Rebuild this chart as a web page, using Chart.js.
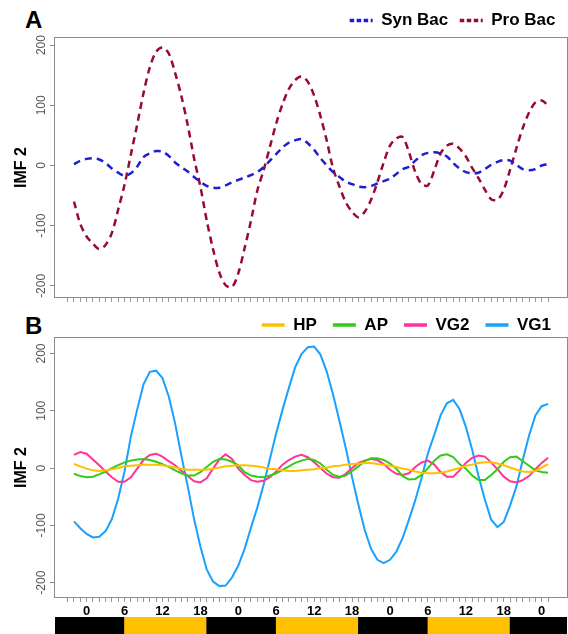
<!DOCTYPE html>
<html><head><meta charset="utf-8">
<script src="https://cdn.jsdelivr.net/npm/chart.js@4.4.1/dist/chart.umd.min.js"></script>
<style>
html,body{margin:0;padding:0;background:#fff;}
body{width:568px;height:634px;overflow:hidden;position:relative;font-family:'Liberation Sans',Arial,sans-serif;}
canvas{position:absolute;left:0;}
.lbl{position:absolute;font-weight:bold;font-size:24px;line-height:24px;color:#000;}
</style></head><body>
<div class="lbl" style="left:25px;top:8px">A</div>
<canvas id="cA" width="568" height="310" style="top:0"></canvas>
<div class="lbl" style="left:25px;top:314px">B</div>
<canvas id="cB" width="568" height="330" style="top:290px"></canvas>
<canvas id="cD" width="568" height="17" style="top:617px"></canvas>
<script>
// ---- data ----
const hours = [-2,-1,0,1,2,3,4,5,6,7,8,9,10,11,12,13,14,15,16,17,18,19,20,21,22,23,24,25,26,27,28,29,30,31,32,33,34,35,36,37,38,39,40,41,42,43,44,45,46,47,48,49,50,51,52,53,54,55,56,57,58,59,60,61,62,63,64,65,66,67,68,69,70,71,72,73];
const synBac = [2,8,11,12,10,4,-5,-12,-17,-13,-2,14,
  20,24,23,16,5,-3,-10,-19,-27,-34,-37,-37,
  -33,-28,-24,-20,-16,-11,-3,8,19,30,38,42,
  44,37,26,12,0,-11,-19,-27,-31,-35,-36,-34,
  -30,-26,-22,-14,-6,-2,8,17,21,22,20,15,
  4,-5,-11,-13,-12,-6,1,6,9,8,1,-6,
  -8,-6,0,2];
const proBac = [-60,-97,-118,-130,-139,-132,-112,-73,-32,18,68,120,
  163,189,196,186,154,115,67,12,-35,-91,-139,-178,
  -199,-202,-179,-137,-92,-42,-8,31,70,102,127,142,
  148,139,116,82,41,-5,-35,-61,-77,-86,-77,-57,
  -28,5,33,45,47,22,-11,-31,-33,-8,20,33,
  36,28,15,-4,-21,-40,-56,-57,-40,-7,29,62,
  88,105,108,100];
const hp = [7,3,-1,-4,-5,-4,-2,0,3,4,5,6,
  6,6,5,3,1,-1,-3,-3,-3,-3,-1,1,
  3,4,5,5,4,3,1,-1,-2,-4,-5,-5,
  -4,-3,-2,0,1,3,4,6,7,8,9,9,
  7,6,4,2,-1,-3,-6,-8,-9,-9,-8,-6,
  -3,0,4,6,9,10,10,8,5,1,-3,-6,
  -7,-5,1,7];
const ap = [-10,-14,-16,-15,-11,-6,0,5,10,13,15,16,
  14,11,7,2,-4,-9,-13,-13,-7,2,11,16,
  15,11,5,-7,-13,-15,-16,-13,-9,-3,3,9,
  13,16,14,8,-3,-12,-15,-13,-5,3,12,17,
  17,14,8,-1,-14,-20,-19,-12,0,13,22,24,
  19,7,-1,-13,-21,-21,-12,-2,11,19,20,12,
  4,-4,-7,-8];
const vg2 = [23,28,25,15,5,-6,-16,-24,-24,-16,-1,14,
  23,25,20,12,5,-5,-14,-23,-25,-18,-1,15,
  24,16,-1,-12,-21,-24,-22,-16,-6,6,14,20,
  23,19,10,0,-10,-16,-17,-10,0,9,13,16,
  14,7,-3,-10,-12,-9,2,10,13,6,-7,-15,
  -15,-4,9,18,22,20,10,-2,-15,-23,-25,-21,
  -14,-2,9,18];
const vg1 = [-93,-105,-115,-121,-120,-110,-89,-53,-6,55,102,146,
  168,170,157,125,78,21,-32,-89,-137,-177,-198,-206,
  -205,-191,-170,-141,-104,-69,-29,16,61,102,140,176,
  199,211,212,198,168,128,82,35,-16,-64,-108,-141,
  -160,-166,-160,-146,-122,-90,-56,-17,26,58,92,113,
  119,103,72,32,-14,-55,-90,-103,-94,-65,-32,14,
  57,92,108,112];
const hourTicks = [-3,-2,-1,0,1,2,3,4,5,6,7,8,9,10,11,12,13,14,15,16,17,18,19,20,21,22,23,24,25,26,27,28,29,30,31,32,33,34,35,36,37,38,39,40,41,42,43,44,45,46,47,48,49,50,51,52,53,54,55,56,57,58,59,60,61,62,63,64,65,66,67,68,69,70,71,72,73];
const labelHours = [0,6,12,18,24,30,36,42,48,54,60,66,72];
const labelTexts = ['0','6','12','18','0','6','12','18','0','6','12','18','0'];
const yTicks = [-200,-100,0,100,200];
const periodStart = [-5,6,19,30,43,54,67];
const periodEnd = [6,19,30,43,54,67,76];
const periodType = ['dark','light','dark','light','dark','light','dark'];

// ---- helpers ----
const FONT = "'Liberation Sans', Arial, sans-serif";
function pts(vals){ return hours.map((h,i)=>({x:h, y:vals[i]})); }

const boxPlugin = { id:'box', afterDraw(chart){
  const {ctx, chartArea:a} = chart;
  ctx.save(); ctx.strokeStyle='#8c8c8c'; ctx.lineWidth=1; ctx.setLineDash([]);
  ctx.strokeRect(a.left-0.5, a.top-0.5, a.right-a.left+1, a.bottom-a.top+1);
  ctx.restore();
}};

function xScale(showLabels, h){
  return {
    type:'linear', min:-5, max:76, position:'bottom',
    afterBuildTicks: s => { s.ticks = hourTicks.map(v=>({value:v})); },
    afterFit: s => { s.height = h; },
    border:{display:false},
    grid:{drawOnChartArea:false, drawTicks:true, tickLength:5, tickColor:'#9a9a9a', tickWidth:1},
    ticks:{autoSkip:false, maxRotation:0, minRotation:0, padding:2, color:'#000',
      font:{family:FONT, size:13, weight:'bold'},
      callback: v => { if(!showLabels) return ''; const i = labelHours.indexOf(v); return i<0 ? '' : labelTexts[i]; }}
  };
}
function yScale(mn, mx){
  return {
    type:'linear', min:mn, max:mx, position:'left',
    afterBuildTicks: s => { s.ticks = yTicks.map(v=>({value:v})); },
    afterFit: s => { s.width = 55; },
    border:{display:false},
    grid:{drawOnChartArea:false, drawTicks:true, tickLength:5, tickColor:'#8c8c8c'},
    ticks:{minRotation:90, maxRotation:90, crossAlign:'center', padding:-4, color:'#555',
      font:{family:FONT, size:12}, callback: v => String(v)},
    title:{display:true, text:'IMF 2', color:'#000', font:{family:FONT, size:16, weight:'bold'}, padding:{top:12, bottom:0}}
  };
}
function legendCfg(pad, dash){
  return {
    position:'top', align:'end', maxHeight:37.5,
    labels:{usePointStyle:true, pointStyle:'line', pointStyleWidth:23, padding:pad, color:'#000',
      font:{family:FONT, size:17, weight:'bold'},
      generateLabels: chart => chart.data.datasets.map((d,i)=>({
        text:d.label, strokeStyle:d.borderColor, fillStyle:d.borderColor, lineWidth:3.5,
        lineDash:dash, lineCap:'butt', pointStyle:'line', datasetIndex:i, hidden:false, fontColor:'#000'}))}
  };
}

// ---- panel A ----
new Chart(document.getElementById('cA'), {
  type:'line',
  data:{datasets:[
    {label:'Syn Bac', data:pts(synBac), borderColor:'#1f1fd1', borderWidth:2.5, borderDash:[7,5], pointRadius:0, tension:0.3, fill:false},
    {label:'Pro Bac', data:pts(proBac), borderColor:'#990a33', borderWidth:2.5, borderDash:[7,5], pointRadius:0, tension:0.3, fill:false}
  ]},
  options:{responsive:false, animation:false, devicePixelRatio:1,
    layout:{padding:{top:0.5, right:1, bottom:5, left:0}},
    plugins:{legend:legendCfg(11.5,[4.5,2.5]), tooltip:{enabled:false}},
    scales:{x:xScale(false,8), y:yScale(-218.5,211.8)}},
  plugins:[boxPlugin]
});

// ---- panel B ----
new Chart(document.getElementById('cB'), {
  type:'line',
  data:{datasets:[
    {label:'HP', data:pts(hp), borderColor:'#ffc000', borderWidth:2, pointRadius:0, tension:0, fill:false},
    {label:'AP', data:pts(ap), borderColor:'#33cc14', borderWidth:2, pointRadius:0, tension:0, fill:false},
    {label:'VG2', data:pts(vg2), borderColor:'#ff3399', borderWidth:2, pointRadius:0, tension:0, fill:false},
    {label:'VG1', data:pts(vg1), borderColor:'#1aa0ff', borderWidth:2, pointRadius:0, tension:0, fill:false}
  ]},
  options:{responsive:false, animation:false, devicePixelRatio:1,
    layout:{padding:{top:10.5, right:1, bottom:0, left:0}},
    plugins:{legend:legendCfg(16,[]), tooltip:{enabled:false}},
    scales:{x:xScale(true,23), y:yScale(-225,227)}},
  plugins:[boxPlugin]
});

// ---- day / night bar ----
new Chart(document.getElementById('cD'), {
  type:'bar',
  data:{labels:['day'], datasets:[{
    data: periodStart.map((s,i)=>({x:[s, periodEnd[i]], y:'day'})),
    backgroundColor: periodType.map(t => t==='light' ? '#ffc000' : '#000000'),
    borderWidth:0, barPercentage:1, categoryPercentage:1, grouped:false
  }]},
  options:{indexAxis:'y', responsive:false, animation:false, devicePixelRatio:1,
    layout:{padding:{left:55, right:1, top:0, bottom:0}},
    plugins:{legend:{display:false}, tooltip:{enabled:false}},
    scales:{x:{type:'linear', min:-5, max:76, display:false}, y:{type:'category', display:false}}}
});
</script>
</body></html>
